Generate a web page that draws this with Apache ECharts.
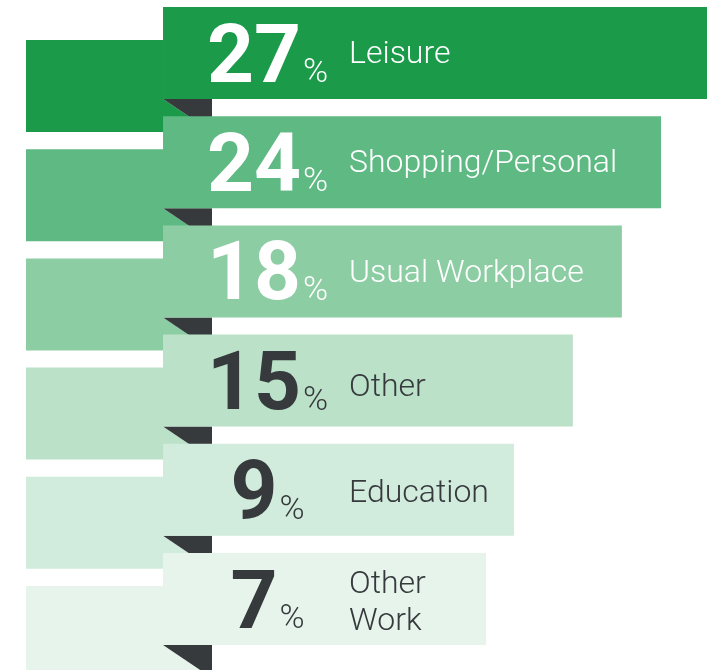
<!DOCTYPE html>
<html>
<head>
<meta charset="utf-8">
<script src="https://cdn.jsdelivr.net/npm/echarts@6/dist/echarts.min.js"></script>
<style>
html,body{margin:0;padding:0;background:#fff;}
#chart{width:719px;height:670px;}
</style>
</head>
<body>
<div id="chart"></div>
<script>
// ---- data ----
var categories = ['Leisure', 'Shopping/Personal', 'Usual Workplace', 'Other', 'Education', 'Other\nWork'];
var percents = [27, 24, 18, 15, 9, 7];
// visible ribbon reach (axis units 0-100)
var barReach = [100, 93.25, 87.5, 80.3, 71.65, 67.55];
var ribbonStart = 20.12;   // where the front ribbon begins (axis units)
var colors = ['#1b9a4a', '#5eb983', '#8dcda3', '#bbe1c9', '#d1ebdc', '#e7f4ec'];
var textColors = ['#ffffff', '#ffffff', '#ffffff', '#363a3d', '#363a3d', '#363a3d'];
var foldColor = '#363a3d';

// layout: label baseline offset from ribbon top (px)
var labelBase = [56, 55.5, 57, 61.5, 58, 58.5];

var FONT = 'Roboto, "Noto Sans", sans-serif';
var mc = document.createElement('canvas').getContext('2d');
function measure(txt, size, weight) {
  mc.font = weight + ' ' + size + 'px ' + FONT;
  mc.textBaseline = 'middle';
  return mc.measureText(txt);
}

var data = categories.map(function (c, i) {
  return [i, barReach[i], percents[i]];
});

var chart = echarts.init(document.getElementById('chart'), null, {renderer: 'canvas'});

function renderItem(params, api) {
  var i = api.value(0);
  var reach = api.value(1);
  var pct = api.value(2);
  var center = api.coord([0, i]);
  var band = api.size([0, 1])[1];
  var leftX = api.coord([0, i])[0];
  var startX = api.coord([ribbonStart, i])[0];
  var endX = api.coord([reach, i])[0];
  var top = center[1] - band / 2;
  var barH = band * 0.8425;
  var drop = band * 0.302;
  var foldW = 49;
  var bottom = top + barH;
  var col = colors[i];
  var tcol = textColors[i];

  var children = [];
  // back ribbon (left part)
  children.push({
    type: 'polygon',
    shape: {points: [
      [leftX, top + drop], [startX, top + drop], [startX, bottom],
      [startX + foldW, bottom + drop], [leftX, bottom + drop]
    ]},
    style: {fill: col}
  });
  // fold triangle
  children.push({
    type: 'polygon',
    shape: {points: [[startX, bottom], [startX + foldW, bottom], [startX + foldW, bottom + drop]]},
    style: {fill: foldColor}
  });
  // front ribbon
  children.push({
    type: 'rect',
    shape: {x: startX, y: top, width: endX - startX, height: barH},
    style: {fill: col}
  });

  // percent number + sign, centred as a group
  var numStr = String(pct);
  var mn = measure(numStr, 82, 'bold');
  var mp = measure('%', 34, '300');
  var gap = 3;
  var total = mn.width + gap + mp.width;
  var cx = startX + 105;
  var gx = cx - total / 2;
  var base = top + 75;
  children.push({
    type: 'text',
    style: {
      text: numStr, x: gx, y: base - mn.actualBoundingBoxDescent,
      fill: tcol, font: 'bold 82px ' + FONT, align: 'left', verticalAlign: 'middle'
    }
  });
  children.push({
    type: 'text',
    style: {
      text: '%', x: gx + mn.width + gap - 1, y: base - mp.actualBoundingBoxDescent,
      fill: tcol, font: '300 34px ' + FONT, align: 'left', verticalAlign: 'middle'
    }
  });
  // category label
  var lines = categories[i].split('\n');
  var ml = measure('H', 32, '300');
  var lineGap = 37;
  var firstBase = top + labelBase[i] - (lines.length - 1) * lineGap / 2;
  lines.forEach(function (ln, k) {
    children.push({
      type: 'text',
      style: {
        text: ln, x: startX + 186, y: firstBase + k * lineGap - ml.actualBoundingBoxDescent,
        fill: tcol, font: '300 32px ' + FONT, align: 'left', verticalAlign: 'middle'
      }
    });
  });
  return {type: 'group', children: children};
}

chart.setOption({
  animation: false,
  grid: {left: 26, right: 12, top: 7, height: 655.2},
  xAxis: {type: 'value', min: 0, max: 100, show: false},
  yAxis: {type: 'category', data: categories, inverse: true, show: false},
  series: [{
    type: 'custom',
    renderItem: renderItem,
    clip: false,
    data: data
  }]
});
</script>
</body>
</html>
